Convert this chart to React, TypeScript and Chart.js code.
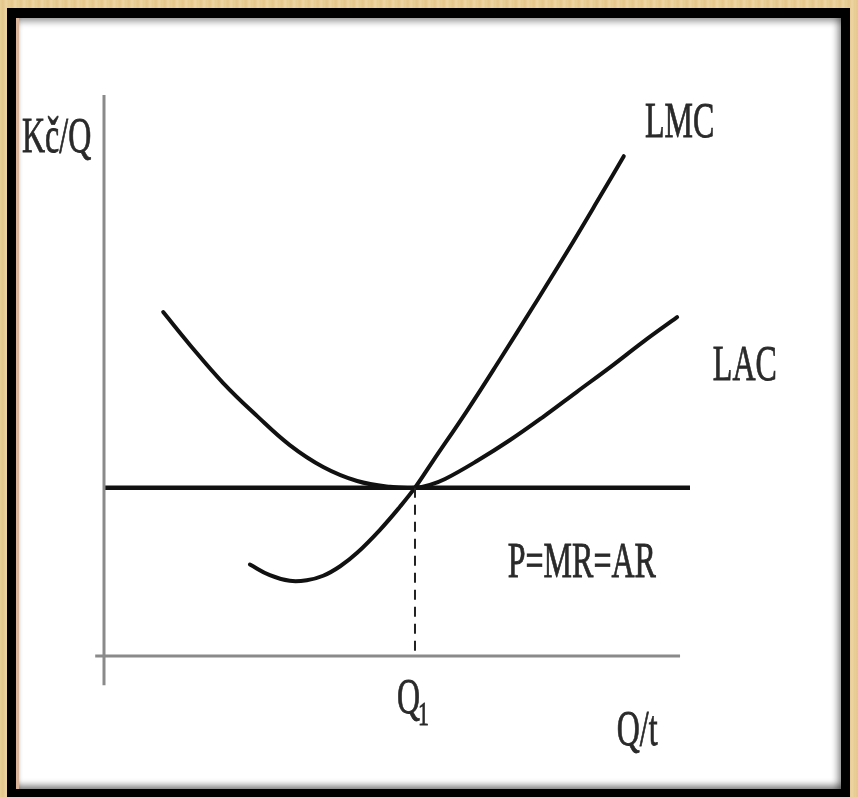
import React, { useEffect, useRef } from "react";
import { Chart, registerables } from "chart.js";

Chart.register(...registerables);

// ---- Data (quantity on x, cost / price per unit on y; arbitrary units 0..100) ----
const LAC_Q = [10.1, 14.7, 20.3, 26.1, 31.7, 37.4, 43.2, 48.8, 53.07, 55.6, 58.2, 63.7, 69.3, 74.9, 80.7, 86.4, 92.0, 97.8];
const LAC_C = [61.3, 55.4, 48.7, 42.8, 37.6, 33.7, 31.2, 30.15, 30.0, 30.5, 31.55, 34.8, 38.5, 42.6, 47.1, 51.5, 56.0, 60.4];

const LMC_Q = [24.9, 28.3, 31.7, 34.6, 37.4, 40.3, 43.2, 47.1, 50.5, 53.07, 56.1, 62.0, 67.6, 73.2, 79.0, 84.6, 88.7];
const LMC_C = [16.3, 14.4, 13.4, 13.5, 14.3, 16.0, 18.4, 22.5, 26.6, 30.0, 34.7, 43.8, 52.9, 62.2, 72.0, 81.8, 89.1];

const PRICE = 30; // P = MR = AR
const Q1 = 53.07;
const X_MAX = 100;
const Y_MAX = 100;

const Y_AXIS_LABEL = "Kč/Q";
const X_AXIS_LABEL = "Q/t";
const LMC_LABEL = "LMC";
const LAC_LABEL = "LAC";
const PRICE_LABEL = "P=MR=AR";
const Q1_LABEL = "Q";
const Q1_SUB = "1";

// label anchors in data coordinates (left / baseline)
const LABELS = [
  { text: Y_AXIS_LABEL, x: -14.0, y: 89.8, size: 50 },
  { text: LMC_LABEL, x: 92.3, y: 92.5, size: 50 },
  { text: LAC_LABEL, x: 103.9, y: 49.2, size: 50 },
  { text: PRICE_LABEL, x: 68.9, y: 14.1, size: 50 },
  { text: Q1_LABEL, x: 50.0, y: -10.2, size: 50 },
  { text: Q1_SUB, x: 53.6, y: -12.3, size: 34 },
  { text: X_AXIS_LABEL, x: 87.5, y: -15.9, size: 50 },
];
const TEXT_SCALE_X = 0.64;
const FONT_FAMILY = '"Liberation Serif", "Times New Roman", serif';

const zip = (xs: number[], ys: number[]) => xs.map((x, i) => ({ x, y: ys[i] }));

const labelPlugin = {
  id: "econLabels",
  afterDatasetsDraw(chart: any) {
    const { ctx } = chart;
    const xs = chart.scales.x;
    const ys = chart.scales.y;
    LABELS.forEach((l) => {
      ctx.save();
      ctx.font = `${l.size}px ${FONT_FAMILY}`;
      ctx.fillStyle = "#2a2a2a";
      ctx.strokeStyle = "#2a2a2a";
      ctx.lineWidth = 0.8;
      ctx.textAlign = "left";
      ctx.textBaseline = "alphabetic";
      ctx.translate(xs.getPixelForValue(l.x), ys.getPixelForValue(l.y));
      ctx.scale(TEXT_SCALE_X, 1);
      ctx.fillText(l.text, 0, 0);
      ctx.strokeText(l.text, 0, 0);
      ctx.restore();
    });
  },
};

export default function App() {
  const ref = useRef<HTMLCanvasElement | null>(null);

  useEffect(() => {
    if (!ref.current) return;
    const line = (data: any[], color: string, width: number, extra: any = {}) => ({
      data,
      showLine: true,
      borderColor: color,
      borderWidth: width,
      pointRadius: 0,
      pointHoverRadius: 0,
      fill: false,
      clip: false,
      ...extra,
    });
    const chart = new Chart(ref.current, {
      type: "scatter",
      data: {
        datasets: [
          line([{ x: 0, y: -5.2 }, { x: 0, y: Y_MAX }], "#8a8a8a", 3),
          line([{ x: -1.5, y: 0 }, { x: 98.3, y: 0 }], "#8a8a8a", 3),
          line([{ x: Q1, y: PRICE }, { x: Q1, y: 0 }], "#222", 2, { borderDash: [10, 7] }),
          line([{ x: 0, y: PRICE }, { x: X_MAX, y: PRICE }], "#111", 4.5),
          line(zip(LAC_Q, LAC_C), "#111", 4, { tension: 0.4, borderCapStyle: "round" }),
          line(zip(LMC_Q, LMC_C), "#111", 4, { tension: 0.4, borderCapStyle: "round" }),
        ],
      },
      options: {
        animation: false,
        responsive: false,
        events: [],
        layout: { padding: { left: 104, top: 95, right: 168, bottom: 141 } },
        scales: {
          x: { type: "linear", min: 0, max: X_MAX, display: false },
          y: { type: "linear", min: 0, max: Y_MAX, display: false },
        },
        plugins: { legend: { display: false }, tooltip: { enabled: false } },
      },
      plugins: [labelPlugin],
    });
    let alive = true;
    if ((document as any).fonts && (document as any).fonts.load) {
      (document as any).fonts
        .load(`50px ${FONT_FAMILY}`, "Kč/Q LMC")
        .then(() => {
          if (alive) chart.update();
        })
        .catch(() => {});
    }
    return () => {
      alive = false;
      chart.destroy();
    };
  }, []);

  return (
    <div
      style={{
        position: "fixed",
        left: 0,
        top: 0,
        width: 858,
        height: 797,
        overflow: "hidden",
        background:
          "repeating-linear-gradient(90deg, #e9cf97 0px, #e3c68a 3px, #edd5a2 6px, #e6cb90 9px)",
      }}
    >
      <div
        style={{
          position: "absolute",
          left: 7,
          top: 8,
          width: 843,
          height: 800,
          background: "#000",
        }}
      />
      <div
        style={{
          position: "absolute",
          left: 16,
          top: 18,
          width: 825,
          height: 771,
          background: "#fff",
          borderLeft: "3px solid #d9b49a",
          boxSizing: "border-box",
          boxShadow:
            "inset 0 7px 6px -3px rgba(0,0,0,0.35), inset -7px 0 6px -3px rgba(0,0,0,0.35), inset 0 -7px 6px -3px rgba(0,0,0,0.45)",
        }}
      />
      <canvas
        ref={ref}
        width={858}
        height={797}
        style={{ position: "absolute", left: 0, top: 0, width: 858, height: 797, display: "block" }}
      />
    </div>
  );
}
